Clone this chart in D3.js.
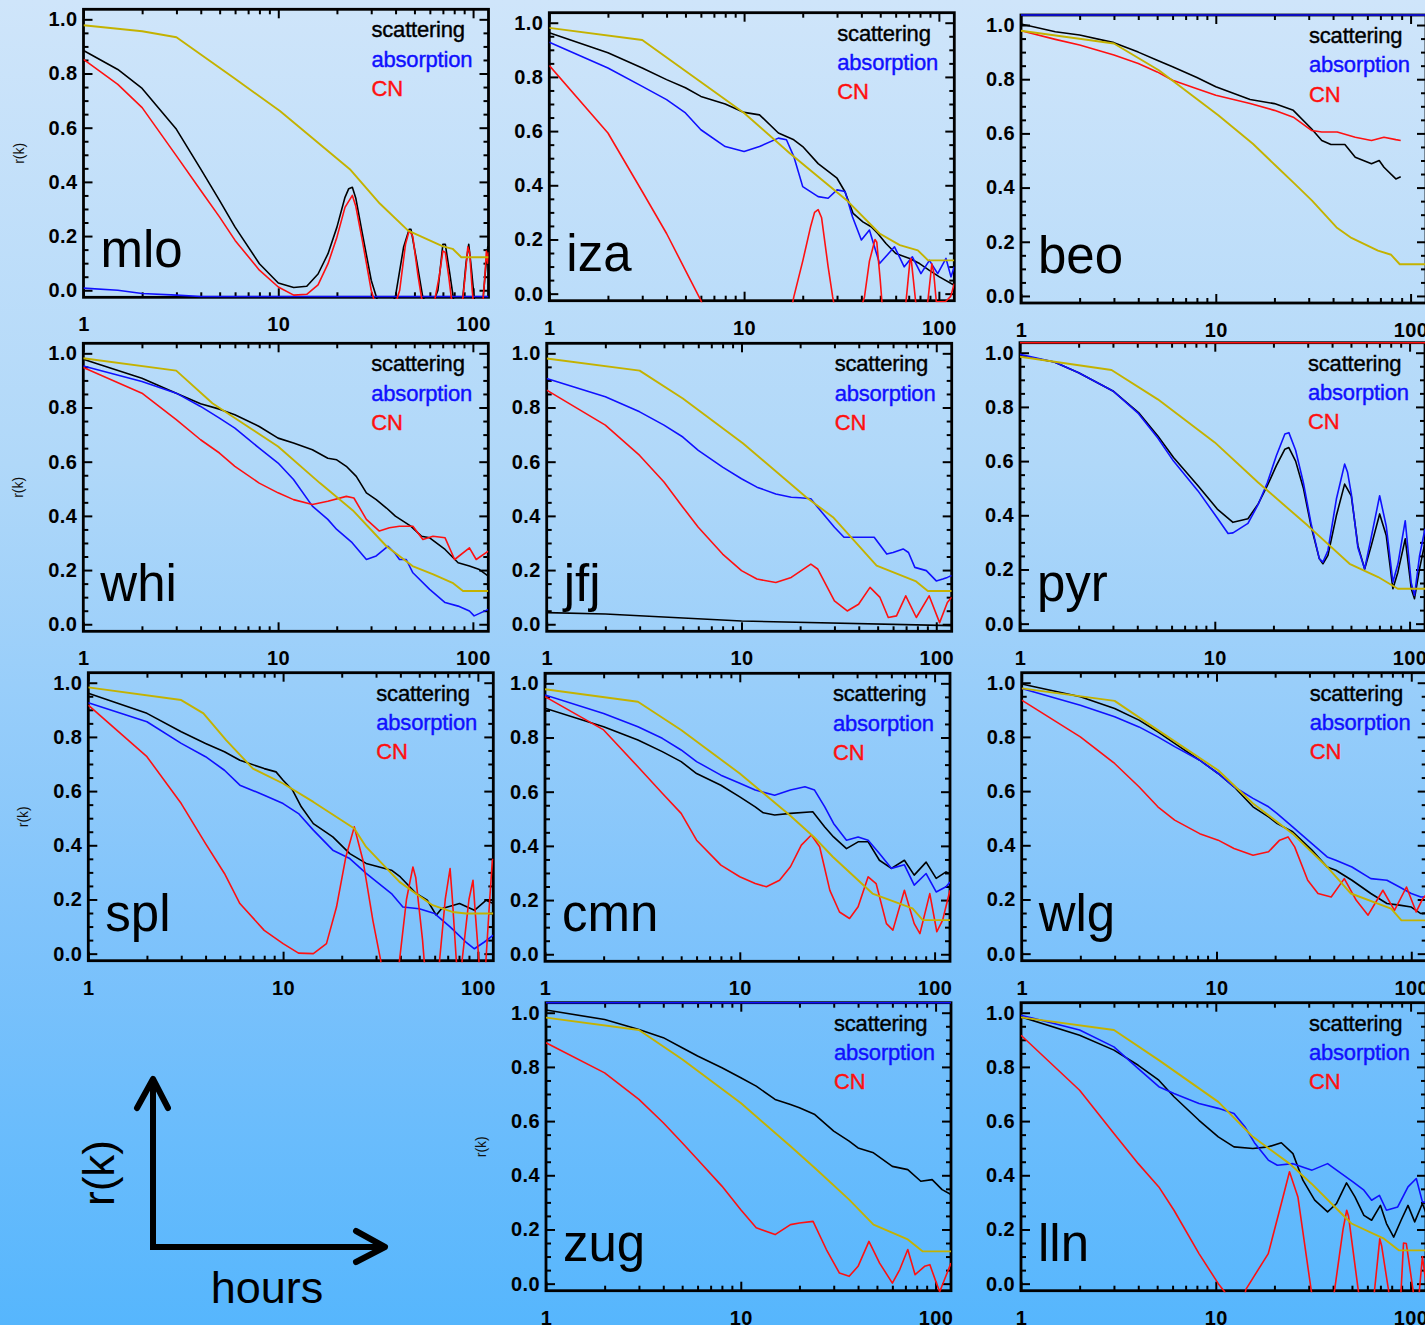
<!DOCTYPE html>
<html>
<head>
<meta charset="utf-8">
<script src="https://cdn.jsdelivr.net/npm/d3@7"></script>
<style>
  html, body { margin: 0; padding: 0; background: #9fd2f9; }
  svg { display: block; }
</style>
</head>
<body>
<svg id="chart" width="1425" height="1325"></svg>
<script>
// ---- Autocorrelation r(k) against lag in hours, one panel per station ----
// Each series is a list of [lag (hours), r(k)].

const stations = ["mlo", "iza", "beo", "whi", "jfj", "pyr", "spl", "cmn", "wlg", "zug", "lln"];
const seriesNames = ["scattering", "absorption", "CN"];
const xTickMajor = [1, 10, 100];
const xTickMinor = [2, 3, 4, 5, 6, 7, 8, 9, 20, 30, 40, 50, 60, 70, 80, 90];
const yTickMajor = [0, 0.2, 0.4, 0.6, 0.8, 1.0];
const yTickMinor = [0.05, 0.1, 0.15, 0.25, 0.3, 0.35, 0.45, 0.5, 0.55, 0.65, 0.7, 0.75, 0.85, 0.9, 0.95];

// mlo
const mloScattering = [[1,.885],[1.5,.815],[2,.745],[3,.594],[4,.447],[5,.331],[6,.233],[8,.098],[10,.027],[12,.01],[14,.015],[16,.06],[18,.135],[20,.233],[22,.343],[23,.375],[24,.38],[25,.34],[27,.21],[30,.037],[33,-.06],[37,-.08],[40,-.02],[44,.16],[47,.225],[48,.225],[51,.12],[55,-.02],[60,-.08],[66,0],[70,.17],[72,.17],[76,.06],[80,-.05],[88,-.05],[92,.1],[95,.17],[98,.08],[102,-.05],[112,-.05],[116,.08],[119,.16],[120,.16]];
const mloAbsorption = [[1,.008],[1.5,0],[2,-.012],[3,-.018],[4,-.023],[120,-.023]];
const mloCN = [[1,.852],[1.5,.76],[2,.674],[3,.496],[4,.368],[5,.27],[6,.184],[8,.074],[10,.012],[12,-.018],[14,-.015],[16,.02],[18,.098],[20,.196],[22,.306],[24,.35],[25,.31],[27,.184],[30,0],[33,-.1],[38,-.1],[42,0],[45,.17],[47,.22],[49,.2],[52,.06],[55,-.05],[63,-.05],[67,.05],[70,.145],[72,.14],[75,.05],[78,-.05],[88,-.05],[91,.05],[94,.16],[96,.14],[99,0],[102,-.1],[112,-.05],[115,.05],[117,.145],[119,.1],[120,.14]];
const mloRef = [[1,.978],[2,.956],[3,.934],[5.9,.784],[10.2,.662],[23.3,.447],[33.2,.32],[46.4,.22],[70,.162],[78.5,.153],[87,.122],[120,.122]];

// iza
const izaScattering = [[1,.963],[2,.889],[3,.833],[4,.79],[5,.76],[6,.728],[8,.70],[10,.669],[12,.66],[15,.593],[18,.568],[20,.543],[24,.48],[30,.426],[32.9,.377],[36.3,.296],[40.7,.265],[44.9,.247],[48.6,.222],[53.5,.185],[60.1,.148],[70.8,.13],[79.6,.111],[89.4,.086],[100.6,.062],[120,.031]];
const izaAbsorption = [[1,.928],[2,.833],[3,.765],[4,.716],[5,.667],[6,.605],[8,.543],[10,.525],[12,.543],[15,.574],[16.5,.568],[18,.506],[20,.395],[24,.358],[27,.352],[30,.383],[33,.377],[36,.284],[40,.198],[44,.235],[49.6,.111],[59.2,.173],[66.4,.099],[73.1,.136],[80.9,.074],[89.4,.123],[98.6,.074],[108.8,.13],[115.4,.062],[120,.099]];
const izaCN = [[1,.842],[2,.593],[3,.377],[4,.222],[5,.086],[6,-.025],[7,-.15],[10,-.3],[15,-.3],[18,-.012],[20,.12],[22,.25],[23,.3],[24,.31],[25,.28],[27,.1],[28.5,-.012],[30,-.1],[38,-.1],[41.5,-.012],[44,.12],[47,.2],[48,.19],[50,.05],[51,-.03],[56,-.1],[66,-.1],[68,-.02],[71,.12],[72,.13],[74,.05],[76,-.03],[85,-.1],[88,-.02],[92,.11],[94,.08],[97,-.03],[108,-.03],[115,-.01],[120,.037]];
const izaRef = [[1,.981],[3,.936],[10,.667],[17.1,.519],[33.5,.346],[49.6,.222],[63,.179],[78,.16],[88,.123],[120,.123]];

// beo
const beoScattering = [[1,1.004],[1.5,.975],[2,.963],[3,.935],[4,.90],[5,.87],[6,.846],[8,.806],[10,.772],[15,.725],[20,.71],[25,.685],[31,.617],[35,.574],[39,.559],[46,.559],[52,.512],[63,.488],[69,.5],[73,.475],[84,.432],[89,.44]];
const beoAbsorption = [[1,1.037],[120,1.037]];
const beoCN = [[1,.979],[1.5,.947],[2,.926],[3,.889],[4,.858],[5,.827],[6,.796],[8,.765],[10,.741],[15,.71],[20,.685],[25,.66],[31,.611],[35,.605],[42,.605],[52,.586],[63,.574],[73,.586],[84,.577],[89,.574]];
const beoRef = [[1,.979],[3,.932],[5.1,.833],[10.3,.667],[15.5,.562],[20.7,.475],[24.9,.42],[31.2,.352],[41.7,.253],[49.7,.214],[68,.167],[79.5,.152],[88,.117],[120,.117]];

// whi
const whiScattering = [[1,.978],[2,.908],[3,.853],[4,.814],[5,.794],[6,.773],[8,.73],[10,.687],[12,.669],[15,.644],[18,.613],[20,.607],[22.4,.583],[25.2,.546],[28.4,.485],[31.9,.46],[36,.429],[40,.399],[48,.362],[54.4,.325],[60,.319],[72,.276],[84,.227],[96,.215],[108,.202],[120,.178]];
const whiAbsorption = [[1,.953],[2,.896],[3,.853],[4,.804],[5,.761],[6,.724],[8,.65],[10,.595],[12,.534],[15,.436],[18,.387],[20,.35],[24,.301],[28.4,.239],[31.9,.252],[36.7,.288],[40,.26],[42,.239],[45.5,.239],[49.2,.19],[60,.129],[72,.08],[84,.067],[96,.049],[101.5,.031],[120,.055]];
const whiCN = [[1,.948],[2,.853],[3,.755],[4,.681],[5,.632],[6,.583],[8,.521],[10,.485],[12,.46],[15,.442],[18,.454],[22.4,.472],[24.5,.466],[28.4,.387],[33.1,.344],[37.3,.356],[42,.362],[49.2,.362],[55.4,.313],[62.4,.325],[72,.319],[80.6,.239],[96,.282],[104,.239],[120,.27]];
const whiRef = [[1,.982],[3,.936],[4.6,.816],[7.4,.718],[10,.656],[16.4,.521],[24.2,.42],[36,.288],[49,.215],[62.6,.184],[78.6,.153],[89,.123],[120,.123]];

// jfj
const jfjScattering = [[1,.043],[2,.038],[10,.012],[120,-.005]];
const jfjAbsorption = [[1,.907],[2,.84],[3,.784],[4,.735],[5,.691],[6,.642],[8,.58],[10,.537],[12,.506],[15,.481],[18,.469],[20,.467],[22.7,.463],[24.6,.432],[30,.358],[33.6,.321],[40,.321],[48,.321],[55.7,.259],[60,.265],[67.6,.278],[72,.265],[77.6,.21],[88.9,.198],[100,.16],[108,.167],[114,.173],[120,.18]];
const jfjCN = [[1,.864],[2,.735],[3,.623],[4,.525],[5,.432],[6,.358],[8,.259],[10,.198],[12,.167],[15,.154],[18,.173],[22.7,.222],[24.6,.204],[30,.086],[34.9,.049],[39.9,.074],[45.7,.136],[51.4,.099],[56.7,.025],[62.5,.031],[69.7,.105],[79,.025],[91.9,.105],[104,.006],[114,.08],[120,.1]];
const jfjRef = [[1,.981],[3,.936],[5,.833],[10.2,.667],[21.5,.469],[29.5,.395],[49.4,.216],[78.8,.158],[90.5,.123],[120,.123]];

// pyr
const pyrScattering = [[1,.99],[1.5,.966],[2,.926],[3,.859],[4.06,.779],[5.1,.693],[6.14,.613],[8.2,.509],[10.3,.423],[12.4,.374],[14.8,.387],[16.7,.442],[18.6,.509],[20.7,.583],[22.9,.644],[24,.65],[26,.6],[28.5,.5],[31.2,.36],[34.4,.24],[35.9,.221],[38.1,.252],[42.1,.399],[46.4,.515],[50.2,.472],[54.3,.288],[58.8,.202],[63.6,.288],[70.2,.405],[75.9,.325],[82.1,.129],[87.1,.19],[95,.313],[102,.129],[106,.092],[112.5,.202],[120,.3]];
const pyrAbsorption = [[1,.994],[1.5,.966],[2,.926],[3,.859],[4.06,.775],[5.1,.685],[6.14,.6],[8.2,.49],[10.3,.39],[11.7,.333],[12.4,.335],[14.8,.37],[16.7,.44],[18.6,.52],[20.7,.62],[22.9,.7],[24,.705],[26,.64],[28.5,.52],[31.2,.37],[34.4,.24],[35.9,.227],[38.1,.27],[42.1,.46],[46.4,.589],[48,.56],[50.2,.48],[54.3,.28],[58.8,.202],[63.6,.32],[70.2,.472],[75.9,.36],[82.1,.153],[87.1,.22],[95,.38],[102,.15],[106,.104],[112.5,.25],[120,.35]];
const pyrCN = [[1,1.037],[120,1.037]];
const pyrRef = [[1,.985],[2.95,.936],[5.1,.828],[10,.669],[16.7,.521],[30,.362],[49.2,.221],[69,.172],[87,.129],[120,.129]];

// spl
const splScattering = [[1,.961],[2,.887],[3,.819],[4,.776],[5,.745],[6,.714],[8,.683],[9.2,.671],[10,.64],[11.2,.603],[12.4,.542],[14.3,.48],[18,.431],[22,.369],[26.7,.333],[36,.308],[40,.283],[48.2,.222],[55,.197],[61.1,.142],[65,.166],[80.5,.185],[96,.16],[110,.197],[120,.185]];
const splAbsorption = [[1,.926],[2,.856],[3,.776],[4,.727],[5,.677],[6,.622],[8,.585],[10,.554],[12,.517],[14.3,.456],[18,.382],[22,.351],[26.7,.296],[36,.222],[41.2,.172],[50,.166],[60,.148],[72,.099],[86.8,.043],[96,.018],[108,.043],[120,.068]];
const splCN = [[1,.917],[2,.727],[3,.554],[4,.406],[5,.296],[6,.185],[8,.086],[10,.037],[12,.002],[14.3,0],[16.7,.037],[18.8,.172],[21,.357],[23.2,.468],[25.7,.345],[28.9,.123],[31.7,-.025],[34,-.2],[37,-.2],[39.6,-.025],[43,.2],[46.4,.32],[48,.28],[52,.05],[53,-.025],[57,-.2],[61,-.2],[63.6,-.025],[68,.2],[72,.314],[74,.2],[77.5,-.025],[81,-.2],[83,-.025],[90,.2],[94.4,.271],[97,.15],[101.2,-.025],[104,-.2],[107,-.2],[110,-.025],[115,.2],[118.7,.345],[120,.35]];
const splRef = [[1,.983],[3,.936],[3.9,.887],[5.1,.788],[7,.683],[10,.628],[14.3,.56],[23.2,.462],[26.7,.394],[39.6,.265],[48,.222],[58.5,.179],[74,.154],[87,.148],[120,.148]];

// cmn
const cmnScattering = [[1,.908],[2,.84],[3,.791],[4,.748],[5,.711],[6,.667],[8,.624],[10,.581],[12,.544],[13.2,.522],[15.1,.514],[18.2,.52],[23.7,.526],[27.3,.47],[30.3,.433],[35.3,.39],[40.5,.415],[45.6,.415],[52.1,.347],[60,.317],[70,.347],[78.6,.292],[90.5,.34],[101.9,.28],[114.5,.304],[120,.298]];
const cmnAbsorption = [[1,.957],[2,.889],[3,.84],[4,.797],[5,.754],[6,.711],[8,.661],[10,.631],[12,.606],[15.1,.587],[18.2,.606],[21.6,.618],[24.2,.606],[27.3,.544],[30.3,.483],[35.3,.421],[40.5,.433],[45.6,.421],[52.1,.372],[60,.317],[70,.33],[78.6,.255],[90.5,.298],[101.9,.23],[114.5,.249],[120,.267]];
const cmnCN = [[1,.951],[2,.828],[3,.692],[4,.594],[5,.52],[6,.421],[8,.329],[10,.286],[12,.261],[13.7,.249],[16,.273],[18.2,.323],[20.7,.403],[23.3,.44],[25.7,.397],[29,.236],[32.5,.156],[36.6,.132],[40.5,.175],[45.6,.286],[50.1,.261],[56.6,.113],[61.1,.089],[70,.236],[78.6,.113],[84.1,.076],[94.5,.224],[102.7,.083],[110,.126],[120,.236]];
const cmnRef = [[1,.978],[3,.932],[5,.828],[10,.667],[18,.514],[24,.433],[30,.36],[48,.224],[77,.169],[87,.126],[120,.126]];

// wlg
const wlgScattering = [[1,.995],[2,.948],[3,.905],[4,.862],[5,.819],[6.1,.776],[8.2,.714],[10.2,.665],[12.3,.616],[15.4,.542],[18.5,.505],[20.5,.48],[24.6,.45],[30.9,.382],[37,.32],[41,.308],[49.6,.271],[62,.222],[75,.185],[87,.179],[100,.172],[112,.148],[120,.15]];
const wlgAbsorption = [[1,.979],[2,.917],[3,.874],[4,.837],[5,.8],[6.1,.764],[8.2,.714],[10.2,.665],[12.3,.616],[15.4,.573],[18.5,.542],[20.5,.517],[24.6,.468],[30.9,.406],[37,.357],[41,.345],[49.6,.32],[62,.277],[75,.271],[87,.246],[100,.222],[112,.209],[120,.21]];
const wlgCN = [[1,.936],[2,.8],[3,.702],[4,.616],[5,.542],[6.1,.493],[8.2,.443],[10.2,.419],[12.3,.388],[15.4,.363],[18.5,.376],[21.1,.419],[23.3,.431],[25.2,.394],[29.4,.271],[33.2,.222],[38.8,.209],[45.3,.277],[52.2,.197],[60,.142],[71.5,.234],[82,.16],[94.5,.246],[106,.154],[114.5,.203],[120,.22]];
const wlgRef = [[1,.979],[3,.933],[5,.825],[10.2,.677],[15.4,.554],[24.6,.443],[37,.32],[49,.222],[78.8,.166],[89,.123],[120,.123]];

// zug
const zugScattering = [[1,1.01],[2,.975],[3,.938],[4,.908],[5,.871],[6,.84],[8,.797],[10,.76],[12,.729],[15,.68],[18,.661],[20,.649],[24,.624],[30,.563],[36,.526],[40,.501],[48,.483],[60,.433],[72,.421],[84,.378],[96,.384],[108,.347],[120,.329]];
const zugAbsorption = [[1,1.037],[120,1.037]];
const zugCN = [[1,.889],[2,.778],[3,.68],[4,.594],[5,.52],[6,.458],[8,.36],[10,.273],[12,.206],[15,.181],[18,.218],[20,.224],[23.5,.23],[27.5,.126],[32.1,.039],[36,.027],[40,.064],[45.5,.156],[51.6,.076],[60,.002],[65.5,.052],[72,.126],[78.5,.033],[87.8,.064],[93.5,.07],[101,.002],[105,-.03],[120,.076]];
const zugRef = [[1,.982],[3,.936],[5,.828],[10,.667],[18,.507],[24,.427],[36,.31],[48,.218],[72,.163],[86,.119],[120,.119]];

// lln
const llnScattering = [[1,.985],[2,.917],[3,.862],[4,.806],[5.1,.751],[6.1,.69],[8.2,.603],[10.3,.542],[12.4,.505],[15.5,.499],[18.6,.505],[21.7,.52],[24.9,.48],[28,.382],[32.2,.308],[37.5,.265],[41.7,.296],[46.9,.372],[51.8,.32],[57.6,.252],[63.1,.234],[70,.289],[75.2,.222],[81.9,.172],[89.4,.234],[97,.289],[105,.228],[115,.296],[120,.26]];
const llnAbsorption = [[1,.991],[2,.936],[3,.874],[4,.794],[5.1,.727],[6.1,.702],[8.2,.665],[10.3,.647],[12.4,.628],[14.1,.579],[15.9,.517],[18.6,.456],[20.7,.437],[24.9,.443],[31.2,.419],[37.5,.443],[41.7,.419],[50.6,.376],[57.6,.345],[63.1,.308],[69.2,.326],[75.2,.271],[85.9,.283],[97,.357],[107,.388],[115,.302],[120,.3]];
const llnCN = [[1,.917],[2,.714],[3,.554],[4,.443],[5.1,.357],[6.1,.271],[8.2,.111],[10.3,0],[11.1,-.03],[12.5,-.15],[13.5,-.1],[14.3,-.02],[18.6,.111],[21.7,.296],[23.9,.413],[26.4,.32],[30.9,-.025],[33,-.15],[38,-.15],[40.7,-.025],[45,.2],[47,.271],[48,.25],[53.9,-.025],[58,-.15],[63,-.15],[65.3,-.025],[69.5,.166],[71,.14],[77.1,-.025],[80,-.15],[86,-.15],[89.4,-.025],[92,.15],[95.1,.148],[103,-.025],[108,-.15],[111,-.025],[115,.1],[120,0]];
const llnRef = [[1,.983],[3,.936],[5.1,.825],[10.3,.671],[15.5,.542],[23.9,.443],[31,.369],[49.7,.222],[73,.166],[87,.123],[120,.123]];

// ---- Panel grid and styling ----
const panelLayout = {
  mlo: { left: 83.5,  top: 9.3,    yTitle: true },
  iza: { left: 549.3, top: 12.7,   yTitle: false },
  beo: { left: 1021,  top: 15,     yTitle: false },
  whi: { left: 83.3,  top: 343.3,  yTitle: true },
  jfj: { left: 546.7, top: 343.3,  yTitle: false },
  pyr: { left: 1020,  top: 342.7,  yTitle: false },
  spl: { left: 88.3,  top: 672.7,  yTitle: true },
  cmn: { left: 545,   top: 673.3,  yTitle: false },
  wlg: { left: 1021.7,top: 672.7,  yTitle: false },
  zug: { left: 546,   top: 1002.7, yTitle: true },
  lln: { left: 1021,  top: 1002.7, yTitle: false }
};
const panelW = 405, panelH = 288;
const seriesColor = { scattering: "#000000", absorption: "#1010ff", CN: "#ff1010", ref: "#c4b200" };
const FONT = "'Liberation Sans', Arial, Helvetica, sans-serif";

const panelData = {
  mlo: { scattering: mloScattering, absorption: mloAbsorption, CN: mloCN, ref: mloRef },
  iza: { scattering: izaScattering, absorption: izaAbsorption, CN: izaCN, ref: izaRef },
  beo: { scattering: beoScattering, absorption: beoAbsorption, CN: beoCN, ref: beoRef },
  whi: { scattering: whiScattering, absorption: whiAbsorption, CN: whiCN, ref: whiRef },
  jfj: { scattering: jfjScattering, absorption: jfjAbsorption, CN: jfjCN, ref: jfjRef },
  pyr: { scattering: pyrScattering, absorption: pyrAbsorption, CN: pyrCN, ref: pyrRef },
  spl: { scattering: splScattering, absorption: splAbsorption, CN: splCN, ref: splRef },
  cmn: { scattering: cmnScattering, absorption: cmnAbsorption, CN: cmnCN, ref: cmnRef },
  wlg: { scattering: wlgScattering, absorption: wlgAbsorption, CN: wlgCN, ref: wlgRef },
  zug: { scattering: zugScattering, absorption: zugAbsorption, CN: zugCN, ref: zugRef },
  lln: { scattering: llnScattering, absorption: llnAbsorption, CN: llnCN, ref: llnRef }
};

const svg = d3.select("#chart");

// background gradient
const defs = svg.append("defs");
const grad = defs.append("linearGradient").attr("id", "bg").attr("x1", 0).attr("y1", 0).attr("x2", 0).attr("y2", 1);
[[0, "#cfe5fa"], [0.35, "#b0d8f9"], [0.7, "#7fc3fb"], [1, "#56b6fd"]].forEach(([o, c]) =>
  grad.append("stop").attr("offset", o).attr("stop-color", c));
svg.append("rect").attr("width", 1425).attr("height", 1325).attr("fill", "url(#bg)");

const x = d3.scaleLog().domain([1, 120]).range([0, panelW]);
const y = d3.scaleLinear().domain([-0.026, 1.037]).range([panelH, 0]);
const line = d3.line().x(d => x(d[0])).y(d => y(d[1]));

function styleAxis(g) {
  g.select(".domain").remove();
  g.selectAll(".tick line").attr("stroke", "#000").attr("stroke-width", 2);
  g.selectAll(".tick text").attr("fill", "#000").attr("font-family", FONT)
    .attr("font-size", 20).attr("font-weight", "bold").attr("letter-spacing", 0.4);
}

stations.forEach(id => {
  const L = panelLayout[id];
  const data = panelData[id];
  const g = svg.append("g").attr("transform", `translate(${L.left},${L.top})`);

  // axes with inward ticks on all four sides
  g.append("g").call(d3.axisLeft(y).tickValues(yTickMajor).tickFormat(d3.format(".1f")).tickSize(-9).tickPadding(6)).call(styleAxis);
  g.append("g").call(d3.axisLeft(y).tickValues(yTickMinor).tickFormat("").tickSize(-5)).call(styleAxis);
  g.append("g").attr("transform", `translate(${panelW},0)`).call(d3.axisRight(y).tickValues(yTickMajor).tickFormat("").tickSize(-9)).call(styleAxis);
  g.append("g").attr("transform", `translate(${panelW},0)`).call(d3.axisRight(y).tickValues(yTickMinor).tickFormat("").tickSize(-5)).call(styleAxis);
  g.append("g").attr("transform", `translate(0,${panelH})`).call(d3.axisBottom(x).tickValues(xTickMajor).tickFormat(d3.format("d")).tickSize(-9).tickPadding(20)).call(styleAxis);
  g.append("g").attr("transform", `translate(0,${panelH})`).call(d3.axisBottom(x).tickValues(xTickMinor).tickFormat("").tickSize(-5)).call(styleAxis);
  g.append("g").call(d3.axisTop(x).tickValues(xTickMajor).tickFormat("").tickSize(-9)).call(styleAxis);
  g.append("g").call(d3.axisTop(x).tickValues(xTickMinor).tickFormat("").tickSize(-5)).call(styleAxis);

  g.append("rect").attr("width", panelW).attr("height", panelH)
    .attr("fill", "none").attr("stroke", "#000").attr("stroke-width", 2.8);

  // data lines, clipped to the plotting frame
  const clipId = "clip-" + id;
  defs.append("clipPath").attr("id", clipId).append("rect")
    .attr("x", 0).attr("y", -1.6).attr("width", panelW).attr("height", panelH + 3.2);
  const plot = g.append("g").attr("clip-path", `url(#${clipId})`);
  ["scattering", "absorption", "CN", "ref"].forEach(k => {
    plot.append("path").datum(data[k]).attr("d", line)
      .attr("fill", "none").attr("stroke", seriesColor[k])
      .attr("stroke-width", k === "ref" ? 1.9 : 1.6).attr("stroke-linejoin", "round");
  });

  // legend
  seriesNames.forEach((name, i) => {
    g.append("text").attr("x", 288).attr("y", 28 + i * 29.3)
      .attr("font-family", FONT).attr("font-size", 22).attr("letter-spacing", -0.2)
      .attr("fill", seriesColor[name]).attr("stroke", seriesColor[name]).attr("stroke-width", 0.4)
      .text(name);
  });

  // station name
  g.append("text").attr("x", 17).attr("y", panelH - 30)
    .attr("font-family", FONT).attr("font-size", 51).attr("fill", "#000").text(id);

  if (L.yTitle) {
    g.append("text").attr("transform", `translate(-60,${panelH / 2}) rotate(-90)`)
      .attr("text-anchor", "middle").attr("font-family", FONT).attr("font-size", 14)
      .attr("fill", "#111").text("r(k)");
  }
});

// axis-key arrows
const key = svg.append("g").attr("stroke", "#000").attr("stroke-width", 6)
  .attr("fill", "none").attr("stroke-linecap", "round").attr("stroke-linejoin", "round");
key.append("path").attr("d", "M153,1244 L153,1080").attr("stroke-linecap", "butt");
key.append("path").attr("d", "M137,1108 L153,1079 L168,1108");
key.append("path").attr("d", "M150,1247 L383,1247").attr("stroke-linecap", "butt");
key.append("path").attr("d", "M356,1231 L385,1247 L356,1262");

svg.append("text").attr("transform", "translate(114,1173) rotate(-90)")
  .attr("text-anchor", "middle").attr("font-family", FONT).attr("font-size", 44)
  .attr("fill", "#000").text("r(k)");
svg.append("text").attr("x", 267).attr("y", 1303).attr("text-anchor", "middle")
  .attr("font-family", FONT).attr("font-size", 45).attr("fill", "#000").text("hours");
</script>
</body>
</html>
